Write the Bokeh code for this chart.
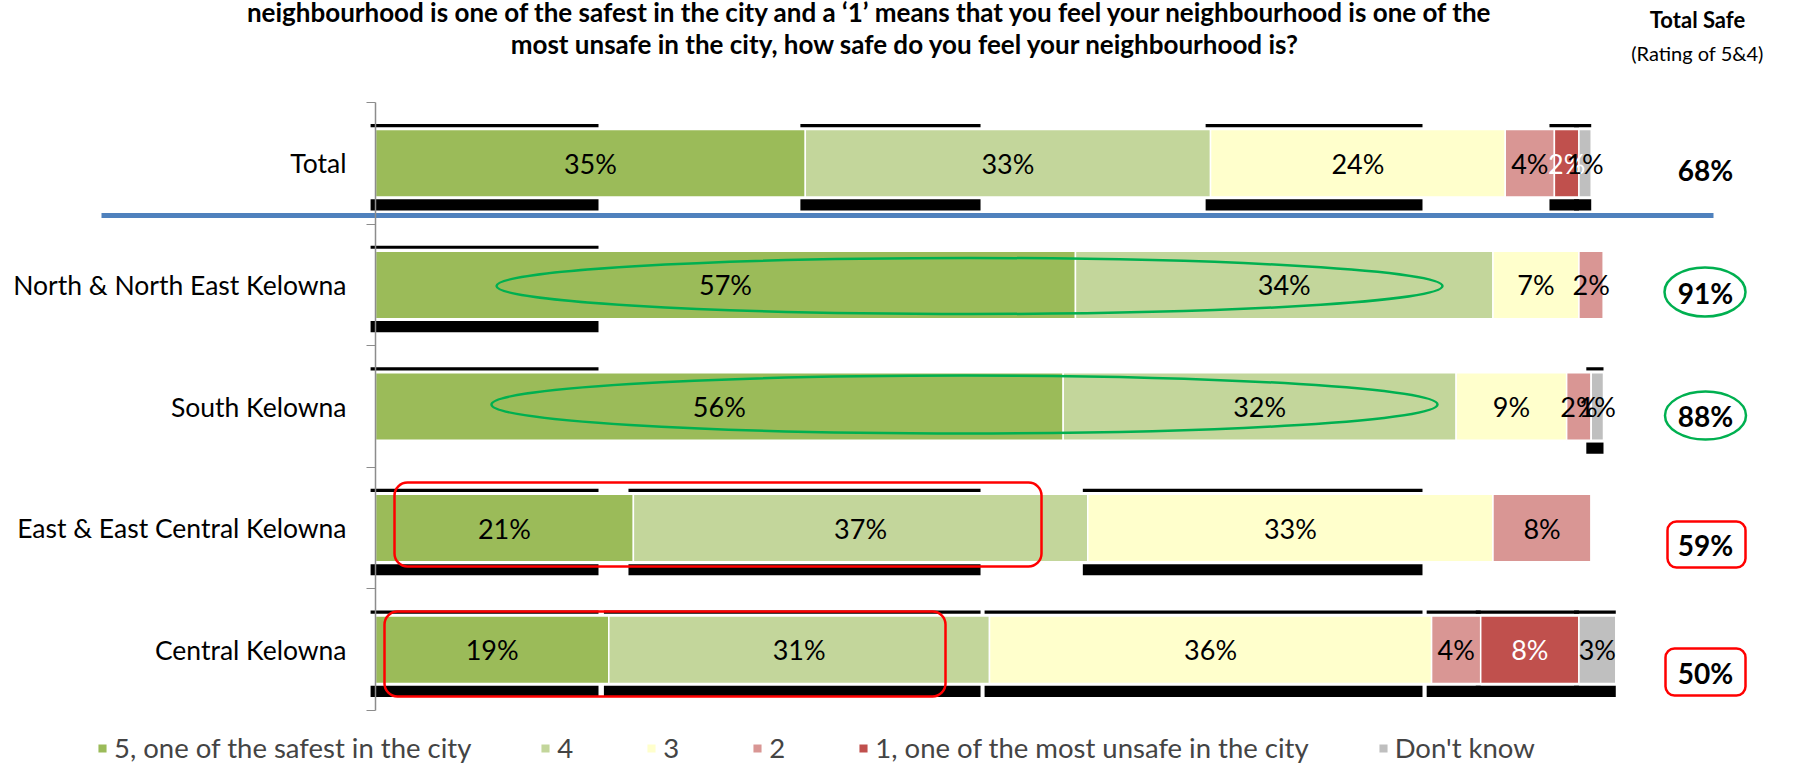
from bokeh.plotting import figure
from bokeh.models import ColumnDataSource, Range1d, LinearAxis, FixedTicker, Legend, LegendItem
from bokeh.core.properties import value
from bokeh.embed import file_html
from bokeh.resources import INLINE

# ---------------- data ----------------
categories = ["Total", "North & North East Kelowna", "South Kelowna",
              "East & East Central Kelowna", "Central Kelowna"]
series_names = ["5, one of the safest in the city", "4", "3", "2",
                "1, one of the most unsafe in the city", "Don't know"]
rating5 = [35, 57, 56, 21, 19]
rating4 = [33, 34, 32, 37, 31]
rating3 = [24, 7, 9, 33, 36]
rating2 = [4, 2, 2, 8, 4]
rating1 = [2, 0, 0, 0, 8]
dont_know = [1, 0, 1, 0, 3]
total_safe = [68, 91, 88, 59, 50]

title_lines = ["neighbourhood is one of the safest in the city and a \u20181\u2019 means that you feel your neighbourhood is one of the",
               "most unsafe in the city, how safe do you feel your neighbourhood is?"]
header_main = "Total Safe"
header_sub = "(Rating of 5&4)"

# ---------------- styles / layout ----------------
colors = ["#9BBB59", "#C3D69B", "#FFFFCC", "#D99694", "#C0504D", "#BFBFBF"]
label_colors = ["black", "black", "black", "black", "white", "black"]
FONT = "Lato"
W, H = 1800, 764
X0_PX, PX_X = 375.0, 12.28
Y5_PX, PX_Y = 102.0, 121.6
BAR_H = 67.5 / PX_Y

series = [rating5, rating4, rating3, rating2, rating1, dont_know]
n = len(categories)
yc = [n - 0.5 - i for i in range(n)]

p = figure(width=W, height=H, output_backend="svg", toolbar_location=None,
           x_range=Range1d(-X0_PX / PX_X, (W - X0_PX) / PX_X),
           y_range=Range1d(-(H - Y5_PX - n * PX_Y) / PX_Y, n + Y5_PX / PX_Y),
           x_axis_location=None, y_axis_location=None, min_border=0,
           outline_line_color=None)
p.xgrid.visible = False
p.ygrid.visible = False

def px_y(py):
    return n - (py - Y5_PX) / PX_Y

def px_x(px):
    return (px - X0_PX) / PX_X

# shadows (render artefact of the original: black shapes behind segments)
clips = [18.16, 49.27, 85.26]
shadow_top = [[1, 1, 1, 0, 1, 1], [1, 0, 0, 0, 0, 0], [1, 0, 0, 0, 0, 1],
              [1, 1, 1, 0, 0, 0], [1, 1, 1, 1, 1, 1]]
shadow_bot = [[1, 1, 1, 0, 1, 1], [1, 0, 0, 0, 0, 0], [0, 0, 0, 0, 0, 1],
              [1, 1, 1, 0, 0, 0], [1, 1, 1, 1, 1, 1]]
sl, sr, st, sb = [], [], [], []
for i in range(n):
    start = 0.0
    for j, s in enumerate(series):
        v = s[i]
        if v > 0:
            end = start + v
            c = next((c for c in clips if c > start + 0.5), end)
            right = min(end, c)
            left = start - 0.4
            top_edge = yc[i] + BAR_H / 2
            bot_edge = yc[i] - BAR_H / 2
            if shadow_top[i][j]:
                sl.append(left); sr.append(right)
                st.append(top_edge + 5.5 / PX_Y); sb.append(top_edge + 2.3 / PX_Y)
            if shadow_bot[i][j]:
                sl.append(left); sr.append(right)
                st.append(bot_edge - 2.3 / PX_Y); sb.append(bot_edge - 13.5 / PX_Y)
        start += v
p.quad(left=sl, right=sr, top=st, bottom=sb, fill_color="black", line_color=None)

# stacked bars
renderers = []
lx, ly, lt, lc = [], [], [], []
cum = [0.0] * n
for j, s in enumerate(series):
    left = list(cum)
    right = [cum[i] + s[i] for i in range(n)]
    src = ColumnDataSource(dict(y=yc, left=left, right=right))
    r = p.hbar(y="y", left="left", right="right", height=BAR_H, source=src,
               fill_color=colors[j], line_color="white", line_width=1.5)
    renderers.append(r)
    for i in range(n):
        if s[i] > 0:
            lx.append((left[i] + right[i]) / 2); ly.append(yc[i])
            lt.append(f"{s[i]}%"); lc.append(label_colors[j])
    cum = right
p.text(x=lx, y=ly, text=lt, text_color=lc, text_align="center", text_baseline="middle",
       text_font=value(FONT), text_font_size="27px")

# separator line under Total
p.segment(x0=[px_x(101)], x1=[px_x(1713)], y0=[px_y(215)], y1=[px_y(215)],
          line_color="#4F81BD", line_width=5)

# highlight shapes
p.ellipse(x=[px_x(969), px_x(964)], y=[px_y(285.5), px_y(404)], width=[946 / PX_X, 946 / PX_X],
          height=[56 / PX_Y, 58 / PX_Y], fill_color=None, line_color="#00B050", line_width=2.5)
p.quad(left=[px_x(394), px_x(384)], right=[px_x(1041), px_x(945)], top=[px_y(482), px_y(611)],
       bottom=[px_y(566), px_y(696)], fill_color=None, line_color="#FF0000",
       line_width=2.5, border_radius=13)

# right-hand Total Safe column
ts_off = [6.2, 7.6, 9.0, 16.4, 22.8]
p.ellipse(x=[px_x(1704.5), px_x(1705)], y=[px_y(291.5), px_y(415)], width=[81 / PX_X, 81 / PX_X],
          height=[49 / PX_Y, 48 / PX_Y], fill_color=None, line_color="#00B050", line_width=2.5)
p.quad(left=[px_x(1667), px_x(1665)], right=[px_x(1745), px_x(1745)], top=[px_y(521), px_y(648)],
       bottom=[px_y(567), px_y(695)], fill_color=None, line_color="#FF0000",
       line_width=2.5, border_radius=9)
p.text(x=[px_x(1705)] * n, y=[yc[i] - ts_off[i] / PX_Y for i in range(n)],
       text=[f"{v}%" for v in total_safe], text_align="center", text_baseline="middle",
       text_font=value(FONT), text_font_style="bold", text_font_size="28px", text_color="black")
p.text(x=[px_x(1697)], y=[px_y(19)], text=[header_main], text_align="center", text_baseline="middle",
       text_font=value(FONT), text_font_style="bold", text_font_size="22px", text_color="black")
p.text(x=[px_x(1697)], y=[px_y(52)], text=[header_sub], text_align="center", text_baseline="middle",
       text_font=value(FONT), text_font_size="20px", text_color="black")

# title
p.text(x=[px_x(870), px_x(905)], y=[px_y(11.5), px_y(43.6)], text=title_lines, text_align="center",
       text_baseline="middle", text_font=value(FONT), text_font_style="bold",
       text_font_size="26px", text_color="black")

# category axis
yaxis = LinearAxis(fixed_location=0, bounds=(0, n),
                   ticker=FixedTicker(ticks=yc, minor_ticks=list(range(n + 1))),
                   major_label_overrides={yc[i]: categories[i] for i in range(n)},
                   major_tick_line_color=None, major_tick_out=0, major_tick_in=0,
                   minor_tick_out=9, minor_tick_in=0, minor_tick_line_color="#8C8C8C",
                   axis_line_color="#8C8C8C", axis_line_width=1.5,
                   major_label_text_font=FONT, major_label_text_font_size="26.5px",
                   major_label_text_color="black", major_label_standoff=20)
p.add_layout(yaxis, "left")

legend = Legend(items=[LegendItem(label=series_names[j], renderers=[renderers[j]]) for j in range(6)],
                orientation="horizontal", location=(96, 0), padding=0, margin=0, spacing=68,
                glyph_width=12, glyph_height=12, label_standoff=6, label_text_font=FONT,
                label_text_font_size="27.5px", label_height=27, border_line_color=None,
                background_fill_alpha=0)
p.add_layout(legend)

open("out.html", "w").write(file_html(p, INLINE))
